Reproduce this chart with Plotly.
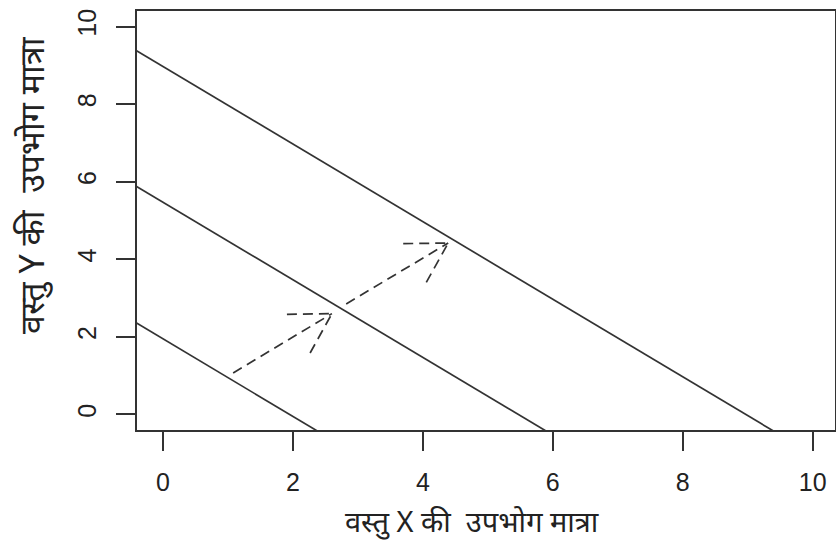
import math
import plotly.graph_objects as go

# Budget/indifference-style lines: x + y = c
line_sums = [1.95, 5.47, 8.97]
# Dashed arrows (start -> tip), data coordinates
arrow_starts_x = [1.08, 2.82]
arrow_starts_y = [1.07, 2.85]
arrow_tips_x = [2.60, 4.39]
arrow_tips_y = [2.60, 4.42]
tick_vals = [0, 2, 4, 6, 8, 10]
x_title = "वस्तु X की  उपभोग मात्रा"
y_title = "वस्तु Y की  उपभोग मात्रा"

W, H = 836, 540
ML, MR, MT, MB = 137, 1, 11, 110
XR = [-0.40, 10.343]
YR = [-0.40, 10.40]
pw = W - ML - MR
ph = H - MT - MB
pxx = pw / (XR[1] - XR[0])
pxy = ph / (YR[1] - YR[0])

LC = "#333333"
fig = go.Figure()

for c in line_sums:
    fig.add_trace(go.Scatter(x=[-1, c + 1], y=[c + 1, -1], mode="lines",
                             line=dict(color=LC, width=1.7), hoverinfo="skip",
                             showlegend=False))

BARB = 45.0
ANG = math.radians(30)
for x0, y0, x1, y1 in zip(arrow_starts_x, arrow_starts_y, arrow_tips_x, arrow_tips_y):
    dash = dict(color=LC, width=1.7, dash="10px,6px")
    fig.add_trace(go.Scatter(x=[x0, x1], y=[y0, y1], mode="lines", line=dash,
                             hoverinfo="skip", showlegend=False))
    a = math.atan2((y1 - y0) * pxy, (x1 - x0) * pxx)
    for s in (1, -1):
        bx = x1 - BARB * math.cos(a + s * ANG) / pxx
        by = y1 - BARB * math.sin(a + s * ANG) / pxy
        fig.add_trace(go.Scatter(x=[bx, x1], y=[by, y1], mode="lines", line=dash,
                                 hoverinfo="skip", showlegend=False))

axis_common = dict(showgrid=False, zeroline=False, showline=True, mirror=True,
                   linecolor=LC, linewidth=1.5, ticks="outside", ticklen=19,
                   tickwidth=1.5, tickcolor=LC, tickvals=tick_vals,
                   ticktext=[str(v) for v in tick_vals], automargin=False,
                   tickfont=dict(family="Liberation Sans, Arial, sans-serif",
                                 size=25, color="#222222"))

fig.update_xaxes(range=XR, ticklabelstandoff=10, **axis_common)
fig.update_yaxes(range=YR, tickangle=-90, ticklabelstandoff=10, **axis_common)

fig.add_annotation(text=x_title, xref="paper", yref="paper", x=0.48, y=0,
                   yshift=-90, showarrow=False, xanchor="center", yanchor="middle",
                   font=dict(family="Noto Sans, Liberation Sans, sans-serif", size=29,
                             color="#222222"))
fig.add_annotation(text=y_title, xref="paper", yref="paper", x=0, y=0.585,
                   xshift=-106, showarrow=False, textangle=-90, xanchor="center",
                   yanchor="middle",
                   font=dict(family="Noto Sans, Liberation Sans, sans-serif", size=34,
                             color="#222222"))

fig.update_layout(width=W, height=H, margin=dict(l=ML, r=MR, t=MT, b=MB),
                  plot_bgcolor="white", paper_bgcolor="white")

fig.write_html("out.html", config={"displayModeBar": False},
               post_script="document.body.style.margin='0';document.body.style.padding='0';")
